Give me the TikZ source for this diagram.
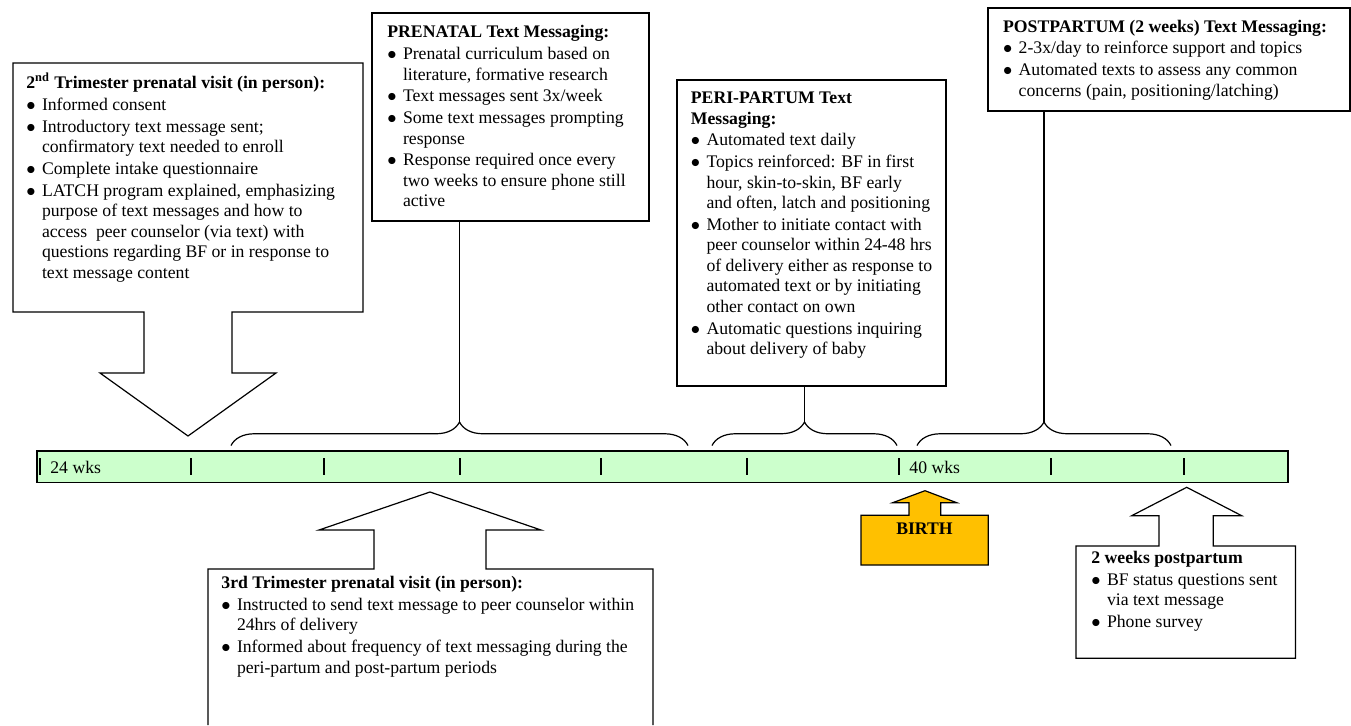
\documentclass[tikz,border=0pt]{standalone}
\usepackage{fontspec}
\setmainfont{Liberation Serif}
\usetikzlibrary{decorations.pathreplacing,fit}

\definecolor{barGreen}{HTML}{CCFFCC}
\definecolor{birthGold}{HTML}{FFC000}

% bullet and continuation indent for the list lines
\newcommand{\bul}{\makebox[7.8pt][l]{$\bullet$}}
\newcommand{\cont}{\hspace*{7.8pt}}

\begin{document}
\begin{tikzpicture}[x=0.5pt, y=-0.5pt,
    outline/.style={draw=black, line width=0.6pt},
    blurb/.style={anchor=north west, inner sep=0pt, align=left,
      font=\fontsize{8.85}{10.25}\selectfont},
    wklabel/.style={anchor=base west, inner sep=0pt,
      font=\fontsize{8.85}{10.25}\selectfont},
    curly/.style={outline, decorate, decoration={brace, amplitude=11.75pt}}]
  \useasboundingbox (0,0) rectangle (1351,725);

  % Timeline bar
  \node[outline, fill=barGreen, inner sep=0pt, fit={(37,451) (1288,482.5)}] (timeline) {};
  \foreach \t in {40,191,324,460,601,747,899,1051,1184}
    \draw[line width=0.6pt] (\t,458) -- (\t,475);
  \node[wklabel] (wk24) at (50,473.5) {24 wks};
  \node[wklabel] (wk40) at (909,473.5) {40 wks};

  % Text messaging periods (boxes above the braces)
  \node[outline, inner sep=0pt, fit={(372,13) (649,221)}] (prenatal) {};
  \node[blurb] (prenataltxt) at (387,23.2) {\strut\textbf{PRENATAL Text Messaging:}\\[0.6pt]
    \bul Prenatal curriculum based on\\
    \cont literature, formative research\\[0.6pt]
    \bul Text messages sent 3x/week\\[0.6pt]
    \bul Some text messages prompting\\
    \cont response\\[0.6pt]
    \bul Response required once every\\
    \cont two weeks to ensure phone still\\
    \cont active};

  \node[outline, inner sep=0pt, fit={(677,80) (946,386)}] (peri) {};
  \node[blurb] (peritxt) at (690.5,89) {\strut\textbf{PERI-PARTUM Text}\\
    \textbf{Messaging:}\\[0.6pt]
    \bul Automated text daily\\[0.6pt]
    \bul Topics reinforced: BF in first\\
    \cont hour, skin-to-skin, BF early\\
    \cont and often, latch and positioning\\[0.6pt]
    \bul Mother to initiate contact with\\
    \cont peer counselor within 24-48 hrs\\
    \cont of delivery either as response to\\
    \cont automated text or by initiating\\
    \cont other contact on own\\[0.6pt]
    \bul Automatic questions inquiring\\
    \cont about delivery of baby};

  \node[outline, inner sep=0pt, fit={(988,8) (1350,111)}] (postpartum) {};
  \node[blurb] (postpartumtxt) at (1002.7,17.4) {\strut\textbf{POSTPARTUM (2 weeks) Text Messaging:}\\[0.6pt]
    \bul 2-3x/day to reinforce support and topics\\[0.6pt]
    \bul Automated texts to assess any common\\
    \cont concerns (pain, positioning/latching)};

  % Braces over the timeline
  \draw[curly] (231,445.5) -- (688,445.5);
  \draw[curly] (712,445.5) -- (897,445.5);
  \draw[curly] (917,445.5) -- (1171,445.5);
  \coordinate (prenataltip) at (459.5,422);
  \coordinate (peritip) at (804.5,422);
  \coordinate (postpartumtip) at (1044,422);
  \draw[outline] (prenatal.south -| prenataltip) -- (prenataltip);
  \draw[outline] (peri.south -| peritip) -- (peritip);
  \draw[outline] (postpartum.south -| postpartumtip) -- (postpartumtip);

  % 2nd trimester visit (callout pointing down)
  \draw[outline] (13,63) -- (363,63) -- (363,312) -- (232,312) -- (232,373) -- (276,373)
    -- (188,436) -- (100,373) -- (144,373) -- (144,312) -- (13,312) -- cycle;
  \node[blurb] (secondtxt) at (26,72.2) {\strut\textbf{2\textsuperscript{nd} Trimester prenatal visit (in person):}\\[0.6pt]
    \bul Informed consent\\[0.6pt]
    \bul Introductory text message sent;\\
    \cont confirmatory text needed to enroll\\[0.6pt]
    \bul Complete intake questionnaire\\[0.6pt]
    \bul LATCH program explained, emphasizing\\
    \cont purpose of text messages and how to\\
    \cont access\ \ peer counselor (via text) with\\
    \cont questions regarding BF or in response to\\
    \cont text message content};

  % 3rd trimester visit (callout pointing up, runs off the page)
  \draw[outline] (208,725) -- (208,569) -- (374,569) -- (374,530) -- (319,530) -- (430,492)
    -- (541,530) -- (486,530) -- (486,569) -- (653,569) -- (653,725);
  \node[blurb] (thirdtxt) at (221,574) {\strut\textbf{3rd Trimester prenatal visit (in person):}\\[0.6pt]
    \bul Instructed to send text message to peer counselor within\\
    \cont 24hrs of delivery\\[0.6pt]
    \bul Informed about frequency of text messaging during the\\
    \cont peri-partum and post-partum periods};

  % Birth
  \draw[outline, fill=birthGold] (861,565) -- (861,515.3) -- (909,515.3) -- (909,502.7) -- (892.7,502.7)
    -- (925,490.7) -- (956.7,502.7) -- (940.7,502.7) -- (940.7,515.3) -- (988.3,515.3)
    -- (988.3,565) -- cycle;
  \node[anchor=base, inner sep=0pt, font=\fontsize{8.85}{10.25}\selectfont\bfseries] (birth) at (924.5,534.3) {BIRTH};

  % 2 weeks postpartum (callout pointing up)
  \draw[outline] (1076,658.3) -- (1076,546) -- (1159,546) -- (1159,515.7) -- (1131.7,515.7)
    -- (1186.7,487.3) -- (1241.7,515.7) -- (1213.3,515.7) -- (1213.3,546) -- (1295.5,546)
    -- (1295.5,658.3) -- cycle;
  \node[blurb] (twowktxt) at (1091,549) {\strut\textbf{2 weeks postpartum}\\[0.6pt]
    \bul BF status questions sent\\
    \cont via text message\\[0.6pt]
    \bul Phone survey};
\end{tikzpicture}
\end{document}
